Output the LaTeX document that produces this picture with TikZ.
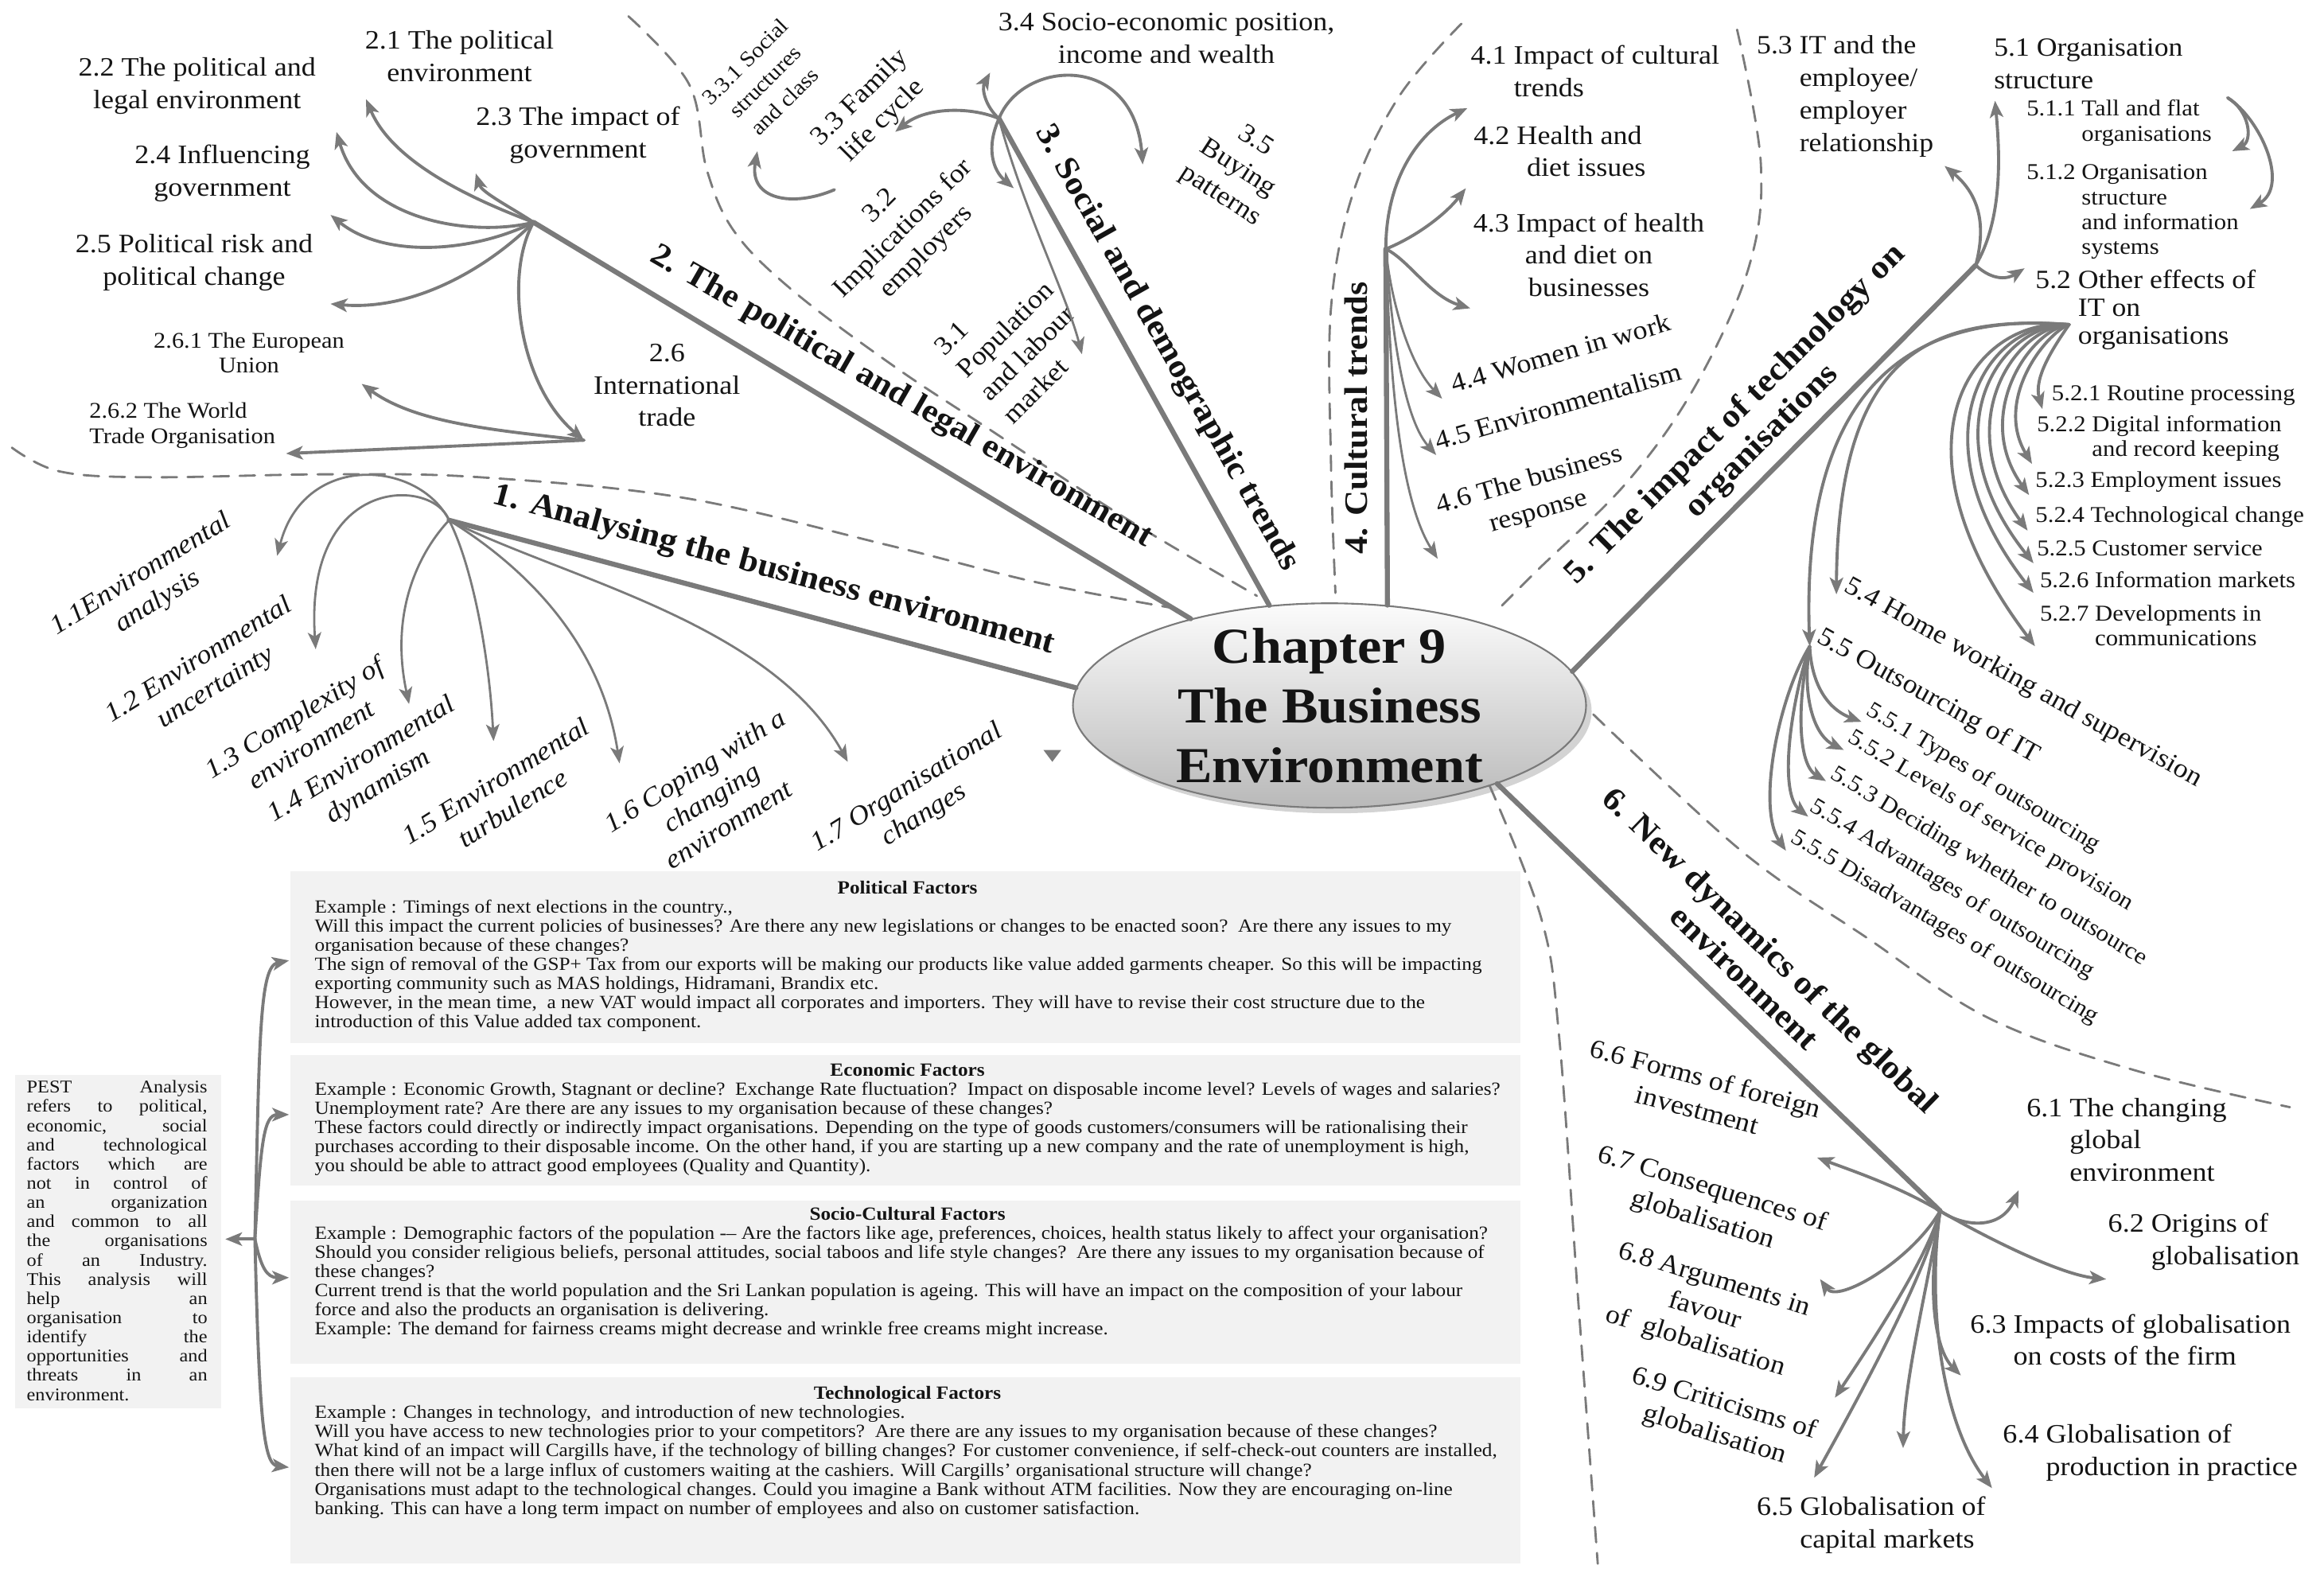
\documentclass[tikz,border=0pt]{standalone}
\usepackage{fontspec}
\setmainfont{Liberation Serif}[FakeStretch=1.08]
\usetikzlibrary{arrows.meta,shapes.geometric,shadows}
\definecolor{fg}{RGB}{20,20,20}
\definecolor{ln}{RGB}{122,122,122}
\definecolor{pane}{RGB}{242,242,242}
\definecolor{hubtop}{RGB}{252,252,252}
\definecolor{hubbot}{RGB}{185,185,185}
\newcommand{\fsz}[2]{\fontsize{#1}{#2}\selectfont}
\newcommand{\jl}[1]{\makebox[2.27cm][s]{#1}}
\tikzset{
  every picture/.style={fg, line cap=round, line join=round,
    >={Stealth[length=6pt,width=4.8pt,inset=1.5pt]}},
  % Linien
  stem/.style={ln, line width=1.8pt},
  twig/.style={ln, line width=1.1pt, ->},
  twiglt/.style={ln, line width=0.8pt, ->},
  sep/.style={ln, line width=0.8pt, dash pattern=on 5.5pt off 3.8pt},
  % Beschriftung
  lbl/.style={fg, inner sep=0pt, align=center, font=\fsz{9.5}{11.6}},
  lbll/.style={lbl, align=left, anchor=west},
  lbls/.style={lbl, font=\fsz{8}{9}},
  lbli/.style={lbl, rotate=32, font=\itshape\fsz{9.6}{11.4}},
  lblt/.style={lbll, font=\fsz{8.1}{8.9}},
  head/.style={fg, inner sep=0pt, align=center, font=\bfseries\fsz{11.7}{13.5}},
  hubshape/.style={ellipse, draw=ln, line width=0.6pt, top color=hubtop, bottom color=hubbot,
    minimum width=6.45cm, minimum height=2.57cm, inner sep=0pt,
    drop shadow={opacity=0.35, shadow xshift=2pt, shadow yshift=-2pt}},
  % Kästen unten
  txt/.style={fg, inner sep=0pt, align=left, anchor=north west, font=\fsz{6.65}{6.85}},
}

\begin{document}
\begin{tikzpicture}[x=0.01863cm, y=-0.01863cm]
  \useasboundingbox (0,0) rectangle (1568,1061);

  % Trennlinien
  \draw[sep] plot[smooth, tension=0.6] coordinates {(8,302) (40,318) (100,322) (222,320) (324,322) (462,336) (600,368) (700,393) (790,410)};
  \draw[sep] plot[smooth, tension=0.6] coordinates {(424,11) (465,57) (477,115) (496,157) (536,197) (603,247) (665,288) (760,350) (848,402)};
  \draw[sep] plot[smooth, tension=0.6] coordinates {(986,16) (944,65) (913,130) (898,208) (898,312) (901,400)};
  \draw[sep] plot[smooth, tension=0.6] coordinates {(1172,20) (1188,110) (1180,180) (1144,260) (1098,325) (1037,385) (1012,410)};
  \draw[sep] plot[smooth, tension=0.6] coordinates {(1075,482) (1176,575) (1260,633) (1342,687) (1440,722) (1545,747)};
  \draw[sep] plot[smooth, tension=0.6] coordinates {(1005,530) (1040,620) (1052,700) (1065,880) (1078,1055)};
  \fill[ln] (704,506) -- (716,506) -- (710,514) -- cycle;

  % Zentrum
  \node[hubshape] (hub) at (897,476) {};
  \node[fg, align=center, font=\bfseries\fsz{18}{21.3}] (title) at (hub) {Chapter 9\\The Business\\Environment};

  % Hauptaeste
  \coordinate (o1) at (303,351);
  \coordinate (o2) at (360,150);
  \coordinate (o3) at (674,80);
  \coordinate (o4) at (935,168);
  \coordinate (o5) at (1333,179);
  \coordinate (o6) at (1309,817);
  \draw[stem] (o1) -- (hub.176);
  \draw[stem] (o2) -- (hub.148);
  \draw[stem] (o3) -- (hub.121);
  \draw[stem] (o4) -- (hub.60);
  \draw[stem] (o5) -- (hub.8);
  \draw[stem] (o6) -- (hub.-25);
  \node[head, rotate=-15] (h1) at (522,385) {1. Analysing the business environment};
  \node[head, rotate=-30] (h2) at (608,268) {2. The political and legal environment};
  \node[head, rotate=-60.5] (h3) at (787,235) {3. Social and demographic trends};
  \node[head, rotate=90] (h4) at (915,282) {4. Cultural trends};
  \node[head, rotate=45] (h5) at (1180,289) {5. The impact of technology on\\organisations};
  \node[head, rotate=-44] (h6) at (1186,650) {6. New dynamics of the global\\environment};

  % 1. Analyse
  \node[lbli] (l11) at (101,397) {1.1Environmental\\analysis};
  \node[lbli] (l12) at (140,455) {1.2 Environmental\\uncertainty};
  \node[lbli] (l13) at (204,493) {1.3 Complexity of\\environment};
  \node[lbli] (l14) at (250,522) {1.4 Environmental\\dynamism};
  \node[lbli] (l15) at (340,536) {1.5 Environmental\\turbulence};
  \node[lbli] (l16) at (480,538) {1.6 Coping with a\\changing\\environment};
  \node[lbli] (l17) at (618,541) {1.7 Organisational\\changes};
  \coordinate (t11) at (187,375);
  \coordinate (t12) at (213,438);
  \coordinate (t13) at (276,475);
  \coordinate (t15) at (333,500);
  \coordinate (t16) at (418,515);
  \coordinate (t17) at (572,514);
  \draw[twiglt] (o1) .. controls (282,310) and (205,305) .. (t11);
  \draw[twiglt] (o1) .. controls (292,322) and (205,320) .. (t12);
  \draw[twiglt] (o1) .. controls (285,370) and (262,410) .. (t13);
  \draw[twiglt] (o1) .. controls (318,380) and (330,440) .. (t15);
  \draw[twiglt] (o1) .. controls (350,380) and (405,430) .. (t16);
  \draw[twiglt] (o1) .. controls (380,390) and (520,420) .. (t17);

  % 2. Politik
  \node[lbl] (l21) at (310,38) {2.1 The political\\environment};
  \node[lbl] (l22) at (133,58) {2.2 The political and\\legal environment};
  \node[lbl] (l23) at (390,91) {2.3 The impact of\\government};
  \node[lbl] (l24) at (150,117) {2.4 Influencing\\government};
  \node[lbl] (l25) at (131,177) {2.5 Political risk and\\political change};
  \node[lbls] (l261) at (168,238) {2.6.1 The European\\Union};
  \node[lbls, align=left] (l262) at (123,287) {2.6.2 The World\\Trade Organisation};
  \node[lbl] (l26) at (450,260) {2.6\\International\\trade};
  \coordinate (t21) at (321,117);
  \coordinate (t22) at (247,67);
  \coordinate (t24) at (227,89);
  \coordinate (t25a) at (223,145);
  \coordinate (t25b) at (223,205);
  \coordinate (t26) at (394,297);
  \coordinate (t261) at (244,259);
  \coordinate (t262) at (193,306);
  \draw[twig] (o2) .. controls (345,140) and (325,130) .. (t21);
  \draw[twig] (o2) .. controls (320,135) and (265,110) .. (t22);
  \draw[twig] (o2) .. controls (320,160) and (245,150) .. (t24);
  \draw[twig] (o2) .. controls (320,170) and (260,175) .. (t25a);
  \draw[twig] (o2) .. controls (330,180) and (280,210) .. (t25b);
  \draw[twig] (o2) .. controls (340,185) and (350,260) .. (t26);
  \draw[twig] (t26) .. controls (330,290) and (280,285) .. (t261);
  \draw[twig] (t26) .. controls (330,300) and (260,303) .. (t262);

  % 3. Gesellschaft
  \node[lbl] (l34) at (787,26) {3.4 Socio-economic position,\\income and wealth};
  \node[lbl, rotate=45, font=\fsz{7.8}{10}] (l331) at (516,55) {3.3.1 Social\\structures\\and class};
  \node[lbl, rotate=45] (l33) at (588,74) {3.3 Family\\life cycle};
  \node[lbl, rotate=45] (l32) at (610,155) {3.2\\Implications for\\employers};
  \node[lbl, rotate=45, align=left] (l31) at (686,230) {3.1\\Population\\and labour\\market};
  \node[lbl, rotate=-33] (l35) at (835,114) {3.5\\Buying\\patterns};
  \coordinate (t34) at (668,49);
  \coordinate (t33) at (604,89);
  \coordinate (t35) at (771,111);
  \coordinate (t32) at (684,127);
  \coordinate (t31) at (730,239);
  \coordinate (s32) at (563,128);
  \coordinate (t331) at (511,102);
  \draw[twig] (o3) .. controls (665,72) and (662,60) .. (t34);
  \draw[twig] (o3) .. controls (655,72) and (625,72) .. (t33);
  \draw[twig] (o3) .. controls (690,40) and (765,35) .. (t35);
  \draw[twig] (o3) .. controls (665,100) and (670,115) .. (t32);
  \draw[twiglt] (o3) .. controls (690,140) and (720,200) .. (t31);
  \draw[twig] (s32) .. controls (535,140) and (505,135) .. (t331);

  % 4. Kultur
  \node[lbll] (l41) at (992,48) {4.1 Impact of cultural\\\phantom{4.1 }trends};
  \node[lbll] (l42) at (994,102) {4.2 Health and\\\hspace*{19pt}diet issues};
  \node[lbl] (l43) at (1072,172) {4.3 Impact of health\\and diet on\\businesses};
  \node[lbl, rotate=16] (l44) at (1053,238) {4.4 Women in work};
  \node[lbl, rotate=16] (l45) at (1051,274) {4.5 Environmentalism};
  \node[lbl, rotate=16] (l46) at (1035,335) {4.6 The business\\response};
  \coordinate (t41) at (990,73);
  \coordinate (t42) at (989,127);
  \coordinate (t43) at (992,208);
  \coordinate (t44) at (973,269);
  \coordinate (t45) at (969,307);
  \coordinate (t46) at (970,377);
  \draw[twig] (o4) .. controls (935,120) and (958,88) .. (t41);
  \draw[twig] (o4) .. controls (955,160) and (975,145) .. (t42);
  \draw[twig] (o4) .. controls (950,175) and (965,200) .. (t43);
  \draw[twiglt] (o4) .. controls (938,200) and (950,245) .. (t44);
  \draw[twiglt] (o4) .. controls (938,210) and (945,280) .. (t45);
  \draw[twiglt] (o4) .. controls (937,220) and (940,330) .. (t46);

  % 5. Technologie
  \node[lbll, font=\fsz{9.4}{11.6}] (l53) at (1185,65) {5.3 IT and the\\\phantom{5.3 }employee/\\\phantom{5.3 }employer\\\phantom{5.3 }relationship};
  \node[lbll, font=\fsz{9.4}{11.6}] (l51) at (1345,43) {5.1 Organisation\\structure};
  \node[lblt] (l511) at (1367,83) {5.1.1 Tall and flat\\\phantom{5.1.1 }organisations};
  \node[lblt] (l512) at (1367,143) {5.1.2 Organisation\\\phantom{5.1.1 }structure\\\phantom{5.1.1 }and information\\\phantom{5.1.1 }systems};
  \node[lbll, font=\fsz{9.4}{10}] (l52) at (1373,209) {5.2 Other effects of\\\phantom{5.2 }IT on\\\phantom{5.2 }organisations};
  \node[lblt] (l521) at (1384,267) {5.2.1 Routine processing};
  \node[lblt] (l522) at (1374,296) {5.2.2 Digital information\\\phantom{5.2.2 }and record keeping};
  \node[lblt] (l523) at (1373,325) {5.2.3 Employment issues};
  \node[lblt] (l524) at (1373,349) {5.2.4 Technological change};
  \node[lblt] (l525) at (1374,370) {5.2.5 Customer service};
  \node[lblt] (l526) at (1376,391) {5.2.6 Information markets};
  \node[lblt] (l527) at (1376,422) {5.2.7 Developments in\\\phantom{5.2.7 }communications};
  \node[lbl, rotate=-29] (l54) at (1365,461) {5.4 Home working and supervision};
  \node[lbl, rotate=-29] (l55) at (1301,470) {5.5 Outsourcing of IT};
  \node[lbl, rotate=-31, font=\fsz{8.3}{9}] (l551) at (1338,525) {5.5.1 Types of outsourcing};
  \node[lbl, rotate=-31, font=\fsz{8.3}{9}] (l552) at (1343,554) {5.5.2 Levels of service provision};
  \node[lbl, rotate=-31, font=\fsz{8.3}{9}] (l553) at (1342,585) {5.5.3 Deciding whether to outsource};
  \node[lbl, rotate=-31, font=\fsz{8.3}{9}] (l554) at (1317,600) {5.5.4 Advantages of outsourcing};
  \node[lbl, rotate=-31, font=\fsz{8.3}{9}] (l555) at (1312,626) {5.5.5 Disadvantages of outsourcing};
  \coordinate (t53) at (1312,112);
  \coordinate (t51) at (1346,68);
  \coordinate (t52) at (1366,181);
  \coordinate (s51) at (1503,66);
  \coordinate (t511) at (1506,102);
  \coordinate (t512) at (1518,141);
  \coordinate (o52) at (1396,219);
  \coordinate (o55) at (1221,436);
  \draw[twig] (o5) .. controls (1338,160) and (1340,135) .. (t53);
  \draw[twig] (o5) .. controls (1350,150) and (1350,110) .. (t51);
  \draw[twig] (o5) .. controls (1345,190) and (1355,188) .. (t52);
  \draw[twig] (s51) .. controls (1518,75) and (1520,95) .. (t511);
  \draw[twig] (s51) .. controls (1525,80) and (1545,125) .. (t512);
  \foreach \tx/\ty/\ax/\ay/\bx/\by in {1378/276/1385/235/1372/255, 1371/313/1380/225/1345/270,
      1369/334/1370/222/1330/280, 1368/358/1360/220/1315/285, 1372/380/1350/218/1300/290,
      1372/400/1340/216/1290/295, 1373/436/1330/214/1270/300, 1239/401/1300/212/1240/240}
    \draw[twig] (o52) .. controls (\ax,\ay) and (\bx,\by) .. (\tx,\ty);
  \draw[twig] (o52) .. controls (1290,210) and (1215,260) .. (o55);
  \foreach \tx/\ty/\ax/\ay/\bx/\by in {1256/487/1222/460/1232/478, 1244/506/1216/465/1222/495,
      1232/527/1213/470/1212/515, 1220/551/1208/475/1200/535, 1205/574/1200/470/1185/545}
    \draw[twig] (o55) .. controls (\ax,\ay) and (\bx,\by) .. (\tx,\ty);

  % 6. Globalisierung
  \node[lbll] (l61) at (1367,769) {6.1 The changing\\\phantom{6.1 }global\\\phantom{6.1 }environment};
  \node[lbll] (l62) at (1422,838) {6.2 Origins of\\\phantom{6.2 }globalisation};
  \node[lbll] (l63) at (1329,904) {6.3 Impacts of globalisation\\\phantom{6.3 }on costs of the firm};
  \node[lbll] (l64) at (1351,980) {6.4 Globalisation of\\\phantom{6.4 }production in practice};
  \node[lbll] (l65) at (1185,1029) {6.5 Globalisation of\\\phantom{6.5 }capital markets};
  \node[lbl, rotate=-15] (l66) at (1148,738) {6.6 Forms of foreign\\investment};
  \node[lbl, rotate=-17] (l67) at (1152,813) {6.7 Consequences of\\globalisation};
  \node[lbl, rotate=-17] (l68) at (1150,885) {6.8 Arguments in\\favour\hspace*{22pt}\\of\ \ globalisation};
  \node[lbl, rotate=-17] (l69) at (1160,958) {6.9 Criticisms of\\globalisation};
  \foreach \tx/\ty/\ax/\ay/\bx/\by in {1226/781/1280/800/1250/790, 1362/803/1325/828/1350/830,
      1421/863/1340/835/1390/860, 1228/863/1290/850/1240/880, 1238/943/1300/850/1260/910,
      1224/997/1300/860/1250/950, 1284/977/1300/870/1285/930, 1323/928/1300/870/1305/910,
      1344/1004/1300/880/1310/960}
    \draw[twig] (o6) .. controls (\ax,\ay) and (\bx,\by) .. (\tx,\ty);

  % PEST
  \fill[pane] (10,725) rectangle (149,950);
  \node[fg, inner sep=0pt, align=left, font=\fsz{6.4}{6.87}] (pest) at (79,837) {\jl{PEST Analysis}\\\jl{refers to political,}\\\jl{economic, social}\\\jl{and technological}\\\jl{factors which are}\\\jl{not in control of}\\\jl{an organization}\\\jl{and common to all}\\\jl{the organisations}\\\jl{of an Industry.}\\\jl{This analysis will}\\\jl{help an}\\\jl{organisation to}\\\jl{identify the}\\\jl{opportunities and}\\\jl{threats in an}\\environment.};
  \fill[pane] (196,588) rectangle (1026,704);
  \fill[pane] (196,712) rectangle (1026,800);
  \fill[pane] (196,810) rectangle (1026,920);
  \fill[pane] (196,929) rectangle (1026,1055);
  \node[txt] (pol) at (212,594) {\makebox[14.9cm]{\bfseries Political Factors}\\
    Example : Timings of next elections in the country.,\\
    Will this impact the current policies of businesses? Are there any new legislations or changes to be enacted soon?\ \ Are there any issues to my\\
    organisation because of these changes?\\
    The sign of removal of the GSP+ Tax from our exports will be making our products like value added garments cheaper. So this will be impacting\\
    exporting community such as MAS holdings, Hidramani, Brandix etc.\\
    However, in the mean time,\ \ a new VAT would impact all corporates and importers. They will have to revise their cost structure due to the\\
    introduction of this Value added tax component.};
  \node[txt] (eco) at (212,717) {\makebox[14.9cm]{\bfseries Economic Factors}\\
    Example : Economic Growth, Stagnant or decline?\ \ Exchange Rate fluctuation?\ \ Impact on disposable income level? Levels of wages and salaries?\\
    Unemployment rate? Are there are any issues to my organisation because of these changes?\\
    These factors could directly or indirectly impact organisations. Depending on the type of goods customers/consumers will be rationalising their\\
    purchases according to their disposable income. On the other hand, if you are starting up a new company and the rate of unemployment is high,\\
    you should be able to attract good employees (Quality and Quantity).};
  \node[txt] (soc) at (212,814) {\makebox[14.9cm]{\bfseries Socio-Cultural Factors}\\
    Example : Demographic factors of the population -– Are the factors like age, preferences, choices, health status likely to affect your organisation?\\
    Should you consider religious beliefs, personal attitudes, social taboos and life style changes?\ \ Are there any issues to my organisation because of\\
    these changes?\\
    Current trend is that the world population and the Sri Lankan population is ageing. This will have an impact on the composition of your labour\\
    force and also the products an organisation is delivering.\\
    Example: The demand for fairness creams might decrease and wrinkle free creams might increase.};
  \node[txt] (tec) at (212,935) {\makebox[14.9cm]{\bfseries Technological Factors}\\
    Example : Changes in technology,\ \ and introduction of new technologies.\\
    Will you have access to new technologies prior to your competitors?\ \ Are there are any issues to my organisation because of these changes?\\
    What kind of an impact will Cargills have, if the technology of billing changes? For customer convenience, if self-check-out counters are installed,\\
    then there will not be a large influx of customers waiting at the cashiers. Will Cargills' organisational structure will change?\\
    Organisations must adapt to the technological changes. Could you imagine a Bank without ATM facilities. Now they are encouraging on-line\\
    banking. This can have a long term impact on number of employees and also on customer satisfaction.};
  \coordinate (pb) at (172,836);
  \coordinate (tp) at (152,836);
  \coordinate (tpol) at (195,648);
  \coordinate (teco) at (195,752);
  \coordinate (tsoc) at (195,862);
  \coordinate (ttec) at (195,990);
  \draw[twig] (pb) -- (tp);
  \draw[twig] (pb) .. controls (175,700) and (175,652) .. (tpol);
  \draw[twig] (pb) .. controls (176,770) and (178,752) .. (teco);
  \draw[twig] (pb) .. controls (176,855) and (180,862) .. (tsoc);
  \draw[twig] (pb) .. controls (175,960) and (178,988) .. (ttec);
\end{tikzpicture}
\end{document}
